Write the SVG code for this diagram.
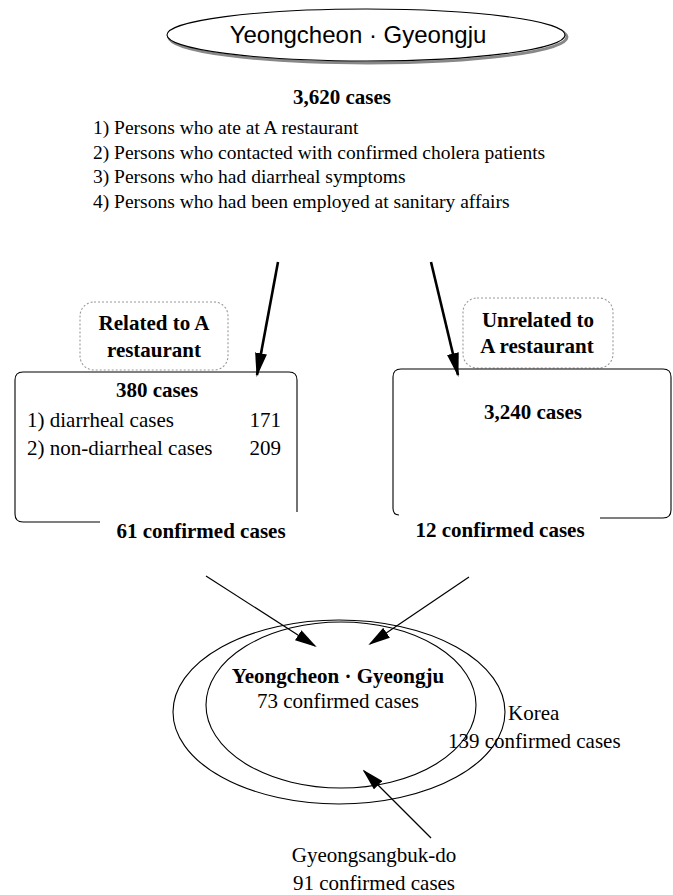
<svg xmlns="http://www.w3.org/2000/svg" width="673" height="895" viewBox="0 0 673 895">
<style>
.serif{font-family:"Liberation Serif","Times New Roman",serif;fill:#000}
.b{font-weight:bold}
.r{font-size:21px}
.lst{font-size:19.5px}
.c{text-anchor:middle}
.e{text-anchor:end}
.box{fill:none;stroke:#000;stroke-width:1.1}
.lbl{fill:none;stroke:#999;stroke-width:1.1;stroke-dasharray:2 2}
.thick{stroke:#000;stroke-width:2.6;fill:none}
.thin{stroke:#000;stroke-width:1.2;fill:none}
.ell{fill:none;stroke:#000;stroke-width:1.1}
</style>
<defs>
<marker id="ahT" markerWidth="24" markerHeight="12" refX="22" refY="6" orient="auto" markerUnits="userSpaceOnUse"><path d="M0,0 L24,6 L0,12 z" fill="#000"/></marker>
<marker id="ahS" markerWidth="22" markerHeight="12" refX="20" refY="6" orient="auto" markerUnits="userSpaceOnUse"><path d="M0,0 L22,6 L0,12 z" fill="#000"/></marker>
</defs>
<rect width="673" height="895" fill="#fff"/>

<g id="title">
<ellipse cx="368" cy="37" rx="199" ry="26" fill="none" stroke="#888" stroke-width="3"/>
<ellipse cx="366" cy="35" rx="199" ry="26" fill="#fff" stroke="#000" stroke-width="1.1"/>
<text x="358" y="43" text-anchor="middle" style="font-family:'Liberation Sans',Arial,sans-serif;font-size:24px">Yeongcheon · Gyeongju</text>
</g>

<g id="total">
<text class="serif b r c" x="342" y="104">3,620 cases</text>
<text class="serif lst" x="93" y="134">1) Persons who ate at A restaurant</text>
<text class="serif lst" x="93" y="159">2) Persons who contacted with confirmed cholera patients</text>
<text class="serif lst" x="93" y="183">3) Persons who had diarrheal symptoms</text>
<text class="serif lst" x="93" y="208">4) Persons who had been employed at sanitary affairs</text>
</g>

<g id="label-related">
<rect class="lbl" x="80" y="302" width="148" height="68" rx="14"/>
<text class="serif b r c" x="154" y="330">Related to A</text>
<text class="serif b r c" x="154" y="357">restaurant</text>
</g>

<g id="label-unrelated">
<rect class="lbl" x="463" y="298" width="150" height="70" rx="14"/>
<text class="serif b r c" x="538" y="327">Unrelated to</text>
<text class="serif b r c" x="537" y="353">A restaurant</text>
</g>

<g id="box-related">
<path class="box" d="M100,522 H23 Q15,522 15,514 V380 Q15,372 23,372 H289 Q297,372 297,380 V512"/>
<text class="serif b r c" x="157" y="397">380 cases</text>
<text class="serif r" x="27" y="427">1) diarrheal cases</text>
<text class="serif r e" x="281" y="427">171</text>
<text class="serif r" x="27" y="455">2) non-diarrheal cases</text>
<text class="serif r e" x="281" y="455">209</text>
<text class="serif b r c" x="201" y="538">61 confirmed cases</text>
</g>

<g id="box-unrelated">
<path class="box" d="M399,515 Q393,515 393,508 V377 Q393,369 401,369 H663 Q671,369 671,377 V510 Q671,518 663,518 H600"/>
<text class="serif b r c" x="533" y="419">3,240 cases</text>
<text class="serif b r c" x="500" y="537">12 confirmed cases</text>
</g>

<g id="korea">
<ellipse class="ell" cx="339" cy="712" rx="166" ry="92"/>
<text class="serif r" x="508" y="720">Korea</text>
<text class="serif r" x="448" y="748">139 confirmed cases</text>
</g>

<g id="gyeongsangbuk">
<ellipse class="ell" cx="341" cy="705" rx="135" ry="83"/>
<text class="serif r c" x="374" y="862">Gyeongsangbuk-do</text>
<text class="serif r c" x="374" y="890">91 confirmed cases</text>
</g>

<g id="yeongcheon">
<text class="serif b r c" x="338" y="683">Yeongcheon · Gyeongju</text>
<text class="serif r c" x="338" y="708">73 confirmed cases</text>
</g>

<g id="connectors">
<line class="thick" x1="278" y1="262" x2="257" y2="375" marker-end="url(#ahT)"/>
<line class="thick" x1="431" y1="262" x2="458" y2="375" marker-end="url(#ahT)"/>
<line class="thin" x1="206" y1="576" x2="315" y2="646" marker-end="url(#ahS)"/>
<line class="thin" x1="469" y1="577" x2="370" y2="644" marker-end="url(#ahS)"/>
<line class="thin" x1="431" y1="838" x2="364" y2="771" marker-end="url(#ahS)"/>
</g>
</svg>
